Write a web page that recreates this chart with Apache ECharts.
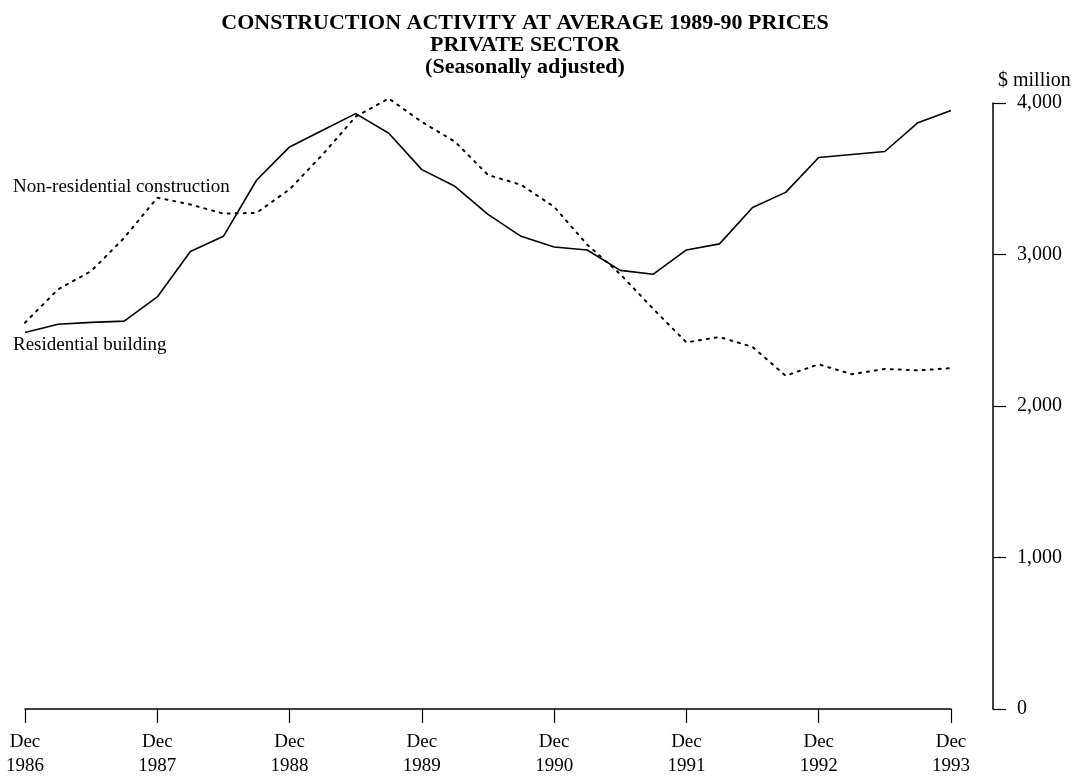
<!DOCTYPE html>
<html>
<head>
<meta charset="utf-8">
<script src="https://cdn.jsdelivr.net/npm/echarts@6/dist/echarts.min.js"></script>
<style>
html,body{margin:0;padding:0;background:#fff;}
#chart{width:1086px;height:778px;}
</style>
</head>
<body>
<div id="chart"></div>
<script>
// Quarterly periods, Dec 1986 to Dec 1993
var quarters = ['Dec 1986','Mar 1987','Jun 1987','Sep 1987','Dec 1987','Mar 1988','Jun 1988','Sep 1988',
  'Dec 1988','Mar 1989','Jun 1989','Sep 1989','Dec 1989','Mar 1990','Jun 1990','Sep 1990',
  'Dec 1990','Mar 1991','Jun 1991','Sep 1991','Dec 1991','Mar 1992','Jun 1992','Sep 1992',
  'Dec 1992','Mar 1993','Jun 1993','Sep 1993','Dec 1993'];
// $ million
var residential = [2485, 2540, 2552, 2560, 2720, 3020, 3120, 3490,
  3710, 3820, 3930, 3800, 3560, 3450, 3265, 3120,
  3050, 3030, 2895, 2870, 3030, 3070, 3310, 3410,
  3640, 3660, 3680, 3870, 3950];
var nonResidential = [2550, 2770, 2890, 3110, 3375, 3330, 3270, 3275,
  3430, 3660, 3910, 4030, 3875, 3745, 3525, 3460,
  3315, 3065, 2870, 2640, 2420, 2455, 2390, 2200,
  2275, 2210, 2245, 2235, 2250];
var yTicks = [0, 1000, 2000, 3000, 4000];
var titleLines = ['CONSTRUCTION ACTIVITY AT AVERAGE 1989-90 PRICES', 'PRIVATE SECTOR', '(Seasonally adjusted)'];
var seriesNames = ['Residential building', 'Non-residential construction'];
var yUnit = '$ million';

var serif = '"Liberation Serif", "DejaVu Serif", serif';
var chart = echarts.init(document.getElementById('chart'), null, {renderer: 'canvas'});

function fmt(v){ return String(v).replace(/\B(?=(\d{3})+(?!\d))/g, ','); }

chart.setOption({
  backgroundColor: '#fff',
  animation: false,
  title: {
    text: titleLines.join('\n'),
    left: 520, top: 7, textAlign: 'center',
    textStyle: {fontFamily: serif, fontWeight: 'bold', fontSize: 22, lineHeight: 22, color: '#000'}
  },
  grid: {left: 25, right: 135, top: 103, bottom: 69, containLabel: false},
  xAxis: {
    type: 'category',
    data: quarters,
    boundaryGap: false,
    axisLine: {lineStyle: {color: '#000', width: 1.5}},
    axisTick: {show: true, length: 14, lineStyle: {color: '#000', width: 1.2},
      interval: function(i){ return i % 4 === 0; }},
    axisLabel: {
      interval: function(i){ return i % 4 === 0; },
      formatter: function(v){ var p = v.split(' '); return p[0] + '\n' + p[1]; },
      fontFamily: serif, fontSize: 19, lineHeight: 24, color: '#000', margin: 21
    },
    splitLine: {show: false}
  },
  yAxis: {
    type: 'value',
    position: 'right',
    offset: 42,
    min: yTicks[0], max: yTicks[yTicks.length - 1], interval: 1000,
    name: yUnit,
    nameLocation: 'end',
    nameGap: 12,
    nameTextStyle: {fontFamily: serif, fontSize: 20, color: '#000', align: 'left', padding: [0, 0, 0, 5]},
    axisLine: {show: true, lineStyle: {color: '#000', width: 1.5}},
    axisTick: {show: true, length: 13, lineStyle: {color: '#000', width: 1.2}},
    axisLabel: {formatter: fmt, fontFamily: serif, fontSize: 20, color: '#000', margin: 24},
    splitLine: {show: false}
  },
  series: [
    {
      name: seriesNames[0], type: 'line', data: residential, clip: false,
      symbol: 'none', lineStyle: {color: '#000', width: 1.6, type: 'solid'}
    },
    {
      name: seriesNames[1], type: 'line', data: nonResidential, clip: false,
      symbol: 'none', lineStyle: {color: '#000', width: 2, type: [2, 6], cap: 'round'}
    }
  ],
  graphic: [
    {type: 'text', left: 13, top: 178, style: {text: seriesNames[1], font: '19px ' + serif, fill: '#000'}},
    {type: 'text', left: 13, top: 336, style: {text: seriesNames[0], font: '19px ' + serif, fill: '#000'}}
  ]
});
</script>
</body>
</html>
